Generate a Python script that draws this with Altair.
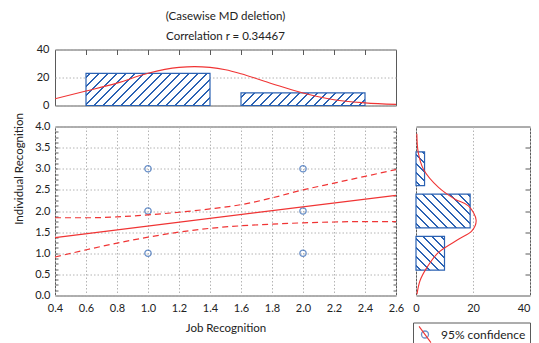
import altair as alt
import pandas as pd

# ---------------- data ----------------
job_x = [1, 1, 1, 2, 2, 2]
ind_y = [1, 2, 3, 1, 2, 3]

fit_x = [0.4, 2.6]
fit_y = [1.37, 2.37]

band_x = [0.4, 0.6, 0.8, 1.0, 1.2, 1.4, 1.6, 1.8, 2.0, 2.2, 2.4, 2.6]
band_upper = [1.84, 1.84, 1.86, 1.91, 1.97, 2.05, 2.15, 2.31, 2.50, 2.66, 2.82, 2.98]
band_lower = [0.91, 1.08, 1.24, 1.38, 1.50, 1.59, 1.65, 1.69, 1.72, 1.74, 1.75, 1.75]

job_bin_start = [0.6, 1.6]
job_bin_end = [1.4, 2.4]
job_counts = [23, 9]

ind_bin_start = [0.6, 1.6, 2.6]
ind_bin_end = [1.4, 2.4, 3.4]
ind_counts = [10, 19, 3]

job_curve_x = [0.4, 0.6, 0.8, 1.0, 1.2, 1.3, 1.4, 1.5, 1.6, 1.8, 2.0, 2.2, 2.4, 2.6]
job_curve_n = [4.8, 10.3, 16.0, 23.0, 27.2, 27.8, 27.2, 25.5, 22.7, 15.6, 8.9, 4.1, 1.9, 0.8]

ind_curve_y = [0.03, 0.35, 0.66, 1.02, 1.33, 1.53, 1.78, 2.12, 2.28, 2.56, 2.99, 3.38, 3.83]
ind_curve_n = [0.35, 1.4, 3.8, 7.9, 14.9, 19.6, 21.1, 18.4, 13.7, 7.9, 2.6, 0.8, 0.3]

x_ticks = [0.4, 0.6, 0.8, 1.0, 1.2, 1.4, 1.6, 1.8, 2.0, 2.2, 2.4, 2.6]
y_ticks = [0.0, 0.5, 1.0, 1.5, 2.0, 2.5, 3.0, 3.5, 4.0]
y_minor = [i / 8 for i in range(1, 32)]
n_ticks = [0, 20, 40]
top_inner_ticks = [0.6, 0.8, 1.0, 1.2, 1.4, 1.6, 1.8, 2.0, 2.2, 2.4]
right_inner_ticks = [0.5, 1.0, 1.5, 2.0, 2.5, 3.0, 3.5]

legend_label = "95% confidence"
title_lines = ["(Casewise MD deletion)", "Correlation r = 0.34467"]

# ---------------- style ----------------
BLUE = "#2b62b3"
RED = "#f03434"
FRAME = "#5a5a5a"
GRID = "#b4b4b4"
TXT = "#222222"
FONT = "Lato"

W_MAIN, H_MAIN = 341, 169
H_TOP = 56
W_RIGHT = 114
X_DOM = [0.4, 2.6]
Y_DOM = [0, 4]
N_DOM = [0, 40]


def hatch(w, h, spacing=9.0, thick=1.9, backslash=False):
    L = w + h
    k = L / (w * w + h * h)
    gx, gy = w * k, h * k
    stops = [{"offset": 0, "color": "white"}]
    c = spacing / 2
    while c < L:
        a = max((c - thick / 2) / L, 0)
        b = min((c + thick / 2) / L, 1)
        stops += [
            {"offset": a, "color": "white"},
            {"offset": a, "color": BLUE},
            {"offset": b, "color": BLUE},
            {"offset": b, "color": "white"},
        ]
        c += spacing
    stops.append({"offset": 1, "color": "white"})
    if backslash:
        return alt.LinearGradient(gradient="linear", x1=0, y1=1, x2=gx, y2=1 - gy, stops=stops)
    return alt.LinearGradient(gradient="linear", x1=0, y1=0, x2=gx, y2=gy, stops=stops)


xs = alt.Scale(domain=X_DOM, nice=False, zero=False)
ys = alt.Scale(domain=Y_DOM, nice=False, zero=False)
ns = alt.Scale(domain=N_DOM, nice=False)

# ---------------- top histogram ----------------
top_x_axis = alt.Axis(orient="top", offset=-5, tickSize=5, ticks=True, tickColor=FRAME,
                      values=top_inner_ticks, labels=False, grid=False, title=None)
top_y_axis = alt.Axis(values=n_ticks, grid=True, labelPadding=6, title=None)

top_df = pd.DataFrame({"i": range(len(job_counts)), "lo": job_bin_start,
                       "hi": job_bin_end, "n": job_counts})
top_layers = []
for i in range(len(job_counts)):
    w = (job_bin_end[i] - job_bin_start[i]) / (X_DOM[1] - X_DOM[0]) * W_MAIN
    h = job_counts[i] / N_DOM[1] * H_TOP
    top_layers.append(
        alt.Chart(top_df).transform_filter(f"datum.i == {i}")
        .mark_bar(fill=hatch(w, h), stroke=BLUE, strokeWidth=1.2)
        .encode(
            x=alt.X("lo:Q", scale=xs, axis=top_x_axis),
            x2="hi:Q",
            y=alt.Y("n:Q", scale=ns, axis=top_y_axis),
            y2=alt.datum(0),
        )
    )
top_curve = alt.Chart(pd.DataFrame({"lo": job_curve_x, "n": job_curve_n})).mark_line(
    color=RED, strokeWidth=1.1, interpolate="monotone", clip=True
).encode(x=alt.X("lo:Q", scale=xs, axis=top_x_axis),
         y=alt.Y("n:Q", scale=ns, axis=top_y_axis))

top = alt.layer(*top_layers, top_curve).properties(
    width=W_MAIN, height=H_TOP,
    title=alt.TitleParams(text=title_lines, anchor="middle", frame="group",
                          font=FONT, fontSize=11.5, fontWeight="normal",
                          color=TXT, lineHeight=20, offset=1),
)

# ---------------- main scatter ----------------
main_x_axis = alt.Axis(values=x_ticks, format=".1f", grid=True, labelPadding=7,
                       title="Job Recognition", titlePadding=9)

pts = pd.DataFrame({"x": job_x, "y": ind_y, "lg": legend_label})
circle_path = "M-0.5,0A0.5,0.5 0 1,0 0.5,0A0.5,0.5 0 1,0 -0.5,0Z"
line_path = "M-0.85,-1.15L0.85,1.15"
LEG_X, LEG_Y = 358, 196
leg_common = dict(orient="none", legendX=LEG_X, legendY=LEG_Y, title=None,
                  symbolSize=196, labelFont=FONT, labelFontSize=12, labelColor=TXT,
                  padding=4, labelOffset=8, cornerRadius=0)

points = alt.Chart(pts).mark_point(shape="circle", size=40, filled=False,
                                    strokeWidth=1.3).encode(
    x=alt.X("x:Q", scale=xs, axis=main_x_axis),
    y=alt.Y("y:Q", scale=ys,
            axis=alt.Axis(values=y_ticks, format=".1f", grid=True, labelPadding=5,
                          title="Individual Recognition", titleX=-31, titleY=42,
                          orient="left")),
    stroke=alt.Stroke("lg:N", scale=alt.Scale(range=[BLUE]),
                      legend=alt.Legend(symbolType=circle_path, strokeColor=FRAME,
                                        symbolStrokeColor=BLUE, symbolStrokeWidth=1.3,
                                        symbolFillColor="transparent", **leg_common)),
)

fit = alt.Chart(pd.DataFrame({"x": fit_x, "y": fit_y, "lg2": legend_label})).mark_line(
    strokeWidth=1.2
).encode(
    x=alt.X("x:Q", scale=xs, axis=main_x_axis),
    y=alt.Y("y:Q", scale=ys, axis=None),
    color=alt.Color("lg2:N", scale=alt.Scale(range=[RED]),
                    legend=alt.Legend(symbolType=line_path, symbolStrokeWidth=1.1,
                                      symbolFillColor="transparent", labelOpacity=0,
                                      **leg_common)),
)

band_df = pd.DataFrame({
    "x": band_x + band_x,
    "y": band_upper + band_lower,
    "side": ["upper"] * len(band_x) + ["lower"] * len(band_x),
})
bands = alt.Chart(band_df).mark_line(color=RED, strokeWidth=1.2, strokeDash=[6, 4],
                                     interpolate="monotone").encode(
    x=alt.X("x:Q", scale=xs, axis=main_x_axis),
    y=alt.Y("y:Q", scale=ys, axis=None),
    detail="side:N",
)

minor_left = alt.Chart(pts).mark_point(opacity=0).encode(
    x=alt.X("x:Q", scale=xs, axis=main_x_axis),
    y=alt.Y("y:Q", scale=ys,
            axis=alt.Axis(orient="left", offset=-3, tickSize=3, ticks=True, tickColor=FRAME,
                          values=y_minor, labels=False, grid=False, title=None)),
)
minor_right = alt.Chart(pts).mark_point(opacity=0).encode(
    x=alt.X("x:Q", scale=xs, axis=main_x_axis),
    y=alt.Y("y:Q", scale=ys,
            axis=alt.Axis(orient="right", offset=-3, tickSize=3, ticks=True, tickColor=FRAME,
                          values=y_minor, labels=False, grid=False, title=None)),
)

main = alt.layer(points, bands, fit, minor_left, minor_right).resolve_axis(
    y="independent"
).resolve_scale(color="independent", stroke="independent").properties(
    width=W_MAIN, height=H_MAIN
)

# ---------------- right histogram ----------------
right_x_axis = alt.Axis(values=n_ticks, grid=True, labelPadding=7, title=None,
                        labelAlign={"condition": {"test": "datum.value >= 40", "value": "right"},
                                    "value": "center"})
right_y_axis = alt.Axis(orient="right", offset=-5, tickSize=5, ticks=True,
                        tickColor=FRAME, values=right_inner_ticks, labels=False,
                        grid=False, title=None)

r_df = pd.DataFrame({"i": range(len(ind_counts)), "lo": ind_bin_start,
                     "hi": ind_bin_end, "n": ind_counts})
right_layers = []
for i in range(len(ind_counts)):
    w = ind_counts[i] / N_DOM[1] * W_RIGHT
    h = (ind_bin_end[i] - ind_bin_start[i]) / (Y_DOM[1] - Y_DOM[0]) * H_MAIN
    right_layers.append(
        alt.Chart(r_df).transform_filter(f"datum.i == {i}")
        .mark_bar(fill=hatch(w, h, backslash=True), stroke=BLUE, strokeWidth=1.2)
        .encode(
            x=alt.X("n:Q", scale=ns, axis=right_x_axis),
            x2=alt.datum(0),
            y=alt.Y("lo:Q", scale=ys, axis=right_y_axis),
            y2="hi:Q",
        )
    )
right_curve = alt.Chart(pd.DataFrame({"lo": ind_curve_y, "n": ind_curve_n})).mark_line(
    color=RED, strokeWidth=1.1, interpolate="catmull-rom"
).encode(
    x=alt.X("n:Q", scale=ns, axis=right_x_axis),
    y=alt.Y("lo:Q", scale=ys, axis=right_y_axis),
    order="lo:Q",
)
right = alt.layer(*right_layers, right_curve).properties(width=W_RIGHT, height=H_MAIN)

bottom = alt.hconcat(main, right, spacing=20, bounds="flush").resolve_scale(
    color="independent", stroke="independent")

chart = alt.vconcat(top, bottom, spacing=21, bounds="flush").resolve_scale(
    color="independent", stroke="independent"
).properties(
    padding={"left": 4, "top": 2.5, "right": 0, "bottom": 0}
).configure_view(
    stroke=FRAME, strokeWidth=1
).configure_axis(
    labelFont=FONT, labelFontSize=11, labelColor=TXT,
    titleFont=FONT, titleFontSize=11.5, titleColor=TXT, titleFontWeight="normal",
    gridColor=GRID, gridDash=[1.5, 2], gridWidth=1,
    domain=False, ticks=False, labelFlush=False,
).configure_title(font=FONT)

chart.save("out.html", embed_options={"renderer": "svg", "actions": False})
